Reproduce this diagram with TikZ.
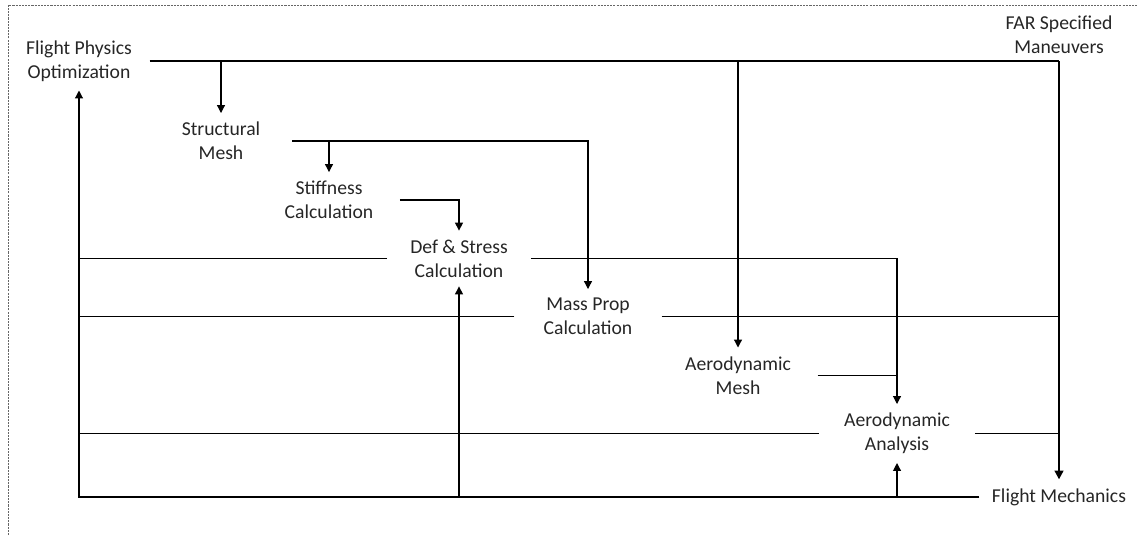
\documentclass[tikz,border=0pt]{standalone}
\usepackage{fontspec}
\setmainfont{Carlito}
\usetikzlibrary{arrows.meta}

\begin{document}
\begin{tikzpicture}[x=0.02cm,y=-0.02cm,
  lbl/.style={align=center,font=\fontsize{11.2pt}{13.6pt}\selectfont,text=black!85,
              inner xsep=15pt,inner ysep=5pt},
  ln/.style={draw=black,line width=0.65pt},
  arr/.style={ln,-{Triangle[length=4.5pt,width=4.5pt]}},
  arrthick/.style={draw=black,line width=1.1pt,-{Triangle[length=5pt,width=5pt]}},
  border/.style={draw=black!60,line width=0.5pt,dash pattern=on 1.2pt off 0.6pt}]

\useasboundingbox (0,0) rectangle (1138,535);

% outer dashed frame (top and left edges)
\draw[border] (8,535) -- (8,5) -- (1138,5);

% process blocks
\node[lbl,inner xsep=10pt] (fpo)   at (79,61)    {Flight Physics\\Optimization};
\node[lbl]                 (far)   at (1059,35)  {FAR Specified\\Maneuvers};
\node[lbl,inner xsep=18pt] (sm)    at (221,141)  {Structural\\Mesh};
\node[lbl]                 (stiff) at (329,200)  {Stiffness\\Calculation};
\node[lbl,inner xsep=13pt] (def)   at (459,258.5){Def \& Stress\\Calculation};
\node[lbl,inner xsep=16.5pt] (mass) at (588,316.5){Mass Prop\\Calculation};
\node[lbl]                 (amesh) at (738,375.5){Aerodynamic\\Mesh};
\node[lbl,inner xsep=14pt] (aana)  at (897,433.5){Aerodynamic\\Analysis};
\node[lbl,inner xsep=7pt]  (fm)    at (1059,497) {Flight Mechanics};

% optimizer outputs
\draw[ln]  (fpo.east) -- (fpo.east -| fm.north);
\draw[arr] (fpo.east -| sm.north) -- (sm.north);
\draw[arr] (fpo.east -| amesh.north) -- (amesh.north);
\draw[arrthick] (fpo.east -| fm.north) -- (fm.north);

% structural chain
\draw[arr] (sm.east) -| (mass.north);
\draw[arr] (sm.east -| stiff.north) -- (stiff.north);
\draw[arr] (stiff.east) -| (def.north);
\draw[arr] (def.east) -| (aana.north);
\draw[ln]  (amesh.east) -- (amesh.east -| aana.north);

% feedback to the optimizer
\draw[ln]  (def.west) -- (def.west -| fpo.south);
\draw[ln]  (mass.west) -- (mass.west -| fpo.south);
\draw[ln]  (aana.west) -- (aana.west -| fpo.south);
\draw[arr] (fm.west) -| (fpo.south);

% inputs to flight mechanics
\draw[ln]  (mass.east) -- (mass.east -| fm.north);
\draw[ln]  (aana.east) -- (aana.east -| fm.north);

% flight mechanics loads back into analyses
\draw[arr] (fm.west -| def.south) -- (def.south);
\draw[arr] (fm.west -| aana.south) -- (aana.south);

\end{tikzpicture}
\end{document}
